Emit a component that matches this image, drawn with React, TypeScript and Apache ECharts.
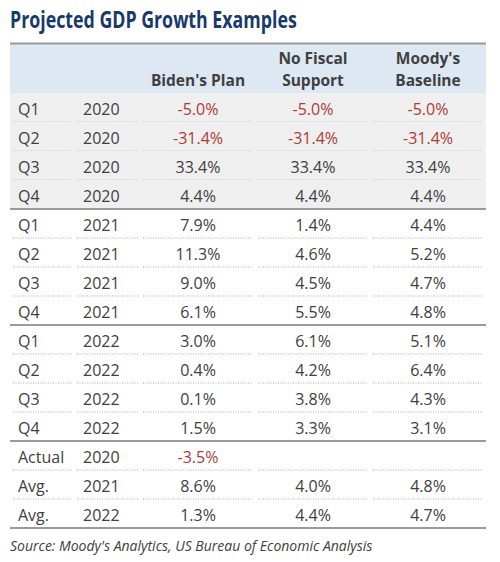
import React, { useEffect, useRef } from "react";
import * as echarts from "echarts";

const titleText = "Projected GDP Growth Examples";
const sourceText = "Source: Moody's Analytics, US Bureau of Economic Analysis";
const headers = [["Biden's Plan"], ["No Fiscal", "Support"], ["Moody's", "Baseline"]];
const periods = ["Q1", "Q2", "Q3", "Q4", "Q1", "Q2", "Q3", "Q4", "Q1", "Q2", "Q3", "Q4", "Actual", "Avg.", "Avg."];
const years = ["2020", "2020", "2020", "2020", "2021", "2021", "2021", "2021", "2022", "2022", "2022", "2022", "2020", "2021", "2022"];
const bidenPlan = [-5.0, -31.4, 33.4, 4.4, 7.9, 11.3, 9.0, 6.1, 3.0, 0.4, 0.1, 1.5, -3.5, 8.6, 1.3];
const noFiscal = [-5.0, -31.4, 33.4, 4.4, 1.4, 4.6, 4.5, 5.5, 6.1, 4.2, 3.8, 3.3, null, 4.0, 4.4];
const moodysBaseline = [-5.0, -31.4, 33.4, 4.4, 4.4, 5.2, 4.7, 4.8, 5.1, 6.4, 4.3, 3.1, null, 4.8, 4.7];
const shadedRows = [0, 1, 2, 3];
const groupEndRows = [3, 7, 11, 14];

const TABLE_W = 476;
const FONT = "'Open Sans', 'Noto Sans', sans-serif";
const TITLE_FONT = `bold 24px 'Open Sans', sans-serif`;
const TITLE_W = 287;
const TEXT = "#404040";
const RED = "#ad3b36";
const RULE = "#9a9a9a";
const valueCols = [188, 303, 418];
const dotSegs = [[3, 62], [67, 128], [133, 243], [248, 358], [363, 473]];

function measure(text: string, font: string) {
  const ctx = document.createElement("canvas").getContext("2d");
  if (!ctx) return TITLE_W;
  ctx.font = font;
  return ctx.measureText(text).width || TITLE_W;
}

export default function App() {
  const ref = useRef<HTMLDivElement>(null);
  useEffect(() => {
    document.body.style.margin = "0";
    const chart = echarts.init(ref.current!, null, { renderer: "svg" });
    const series = [bidenPlan, noFiscal, moodysBaseline];
    const rowIdx = periods.map((_, i) => [0, i]);
    const titleScale = Math.min(1, TITLE_W / measure(titleText, TITLE_FONT));

    const txt = (text: string, x: number, y: number, font: string, fill: string, align: string) => ({
      type: "text",
      style: { text, x, y, font, fill, align, verticalAlign: "middle", textAlign: align, textVerticalAlign: "middle" },
    });

    const renderItem = (params: any, api: any) => {
      const i = api.value(1);
      const c = api.coord([0, i]);
      const h = api.size([0, 1])[1];
      const X = (v: number) => api.coord([v, i])[0];
      const top = c[1] - h / 2;
      const bot = c[1] + h / 2;
      const ty = c[1] + 1;
      const children: any[] = [];
      if (shadedRows.includes(i)) {
        children.push({
          type: "rect",
          shape: { x: X(0), y: top, width: X(TABLE_W) - X(0), height: h },
          style: { fill: "#efefef" },
          silent: true,
        });
      }
      children.push(txt(periods[i], X(8), ty, `16px ${FONT}`, TEXT, "left"));
      children.push(txt(years[i], X(73), ty, `16px ${FONT}`, TEXT, "left"));
      series.forEach((s, k) => {
        const v = s[i];
        if (v === null || v === undefined) return;
        children.push(txt(v.toFixed(1) + "%", X(valueCols[k]), ty, `16px ${FONT}`, v < 0 ? RED : TEXT, "center"));
      });
      if (groupEndRows.includes(i)) {
        children.push({
          type: "line",
          shape: { x1: X(0), y1: bot, x2: X(TABLE_W), y2: bot },
          style: { stroke: RULE, lineWidth: 2 },
        });
      } else {
        dotSegs.forEach(([a, b]) => {
          children.push({
            type: "line",
            shape: { x1: X(a), y1: bot, x2: X(b), y2: bot },
            style: { stroke: "#ababab", lineWidth: 1, lineDash: [1, 1.5] },
          });
        });
      }
      return { type: "group", children };
    };

    const headerTexts: any[] = [];
    headers.forEach((lines, k) => {
      const n = lines.length;
      lines.forEach((t, j) => {
        headerTexts.push(txt(t, 10 + valueCols[k], 80 - (n - 1 - j) * 22, `bold 15.5px ${FONT}`, TEXT, "center"));
      });
    });

    chart.setOption({
      animation: false,
      grid: { left: 10, width: TABLE_W, top: 93, height: 435, containLabel: false },
      xAxis: { type: "value", min: 0, max: TABLE_W, show: false },
      yAxis: { type: "category", inverse: true, data: periods.map((_, i) => String(i)), show: false },
      graphic: [
        {
          type: "text",
          x: 10,
          y: 18,
          scaleX: titleScale,
          style: { text: titleText, x: 0, y: 0, font: TITLE_FONT, fill: "#17396b", align: "left", verticalAlign: "middle", textAlign: "left", textVerticalAlign: "middle" },
        },
        { type: "rect", shape: { x: 10, y: 44, width: TABLE_W, height: 49 }, style: { fill: "#dde8f2" } },
        { type: "line", shape: { x1: 10, y1: 43.5, x2: 10 + TABLE_W, y2: 43.5 }, style: { stroke: RULE, lineWidth: 2 } },
        ...headerTexts,
        txt(sourceText, 10, 545, `italic 14px ${FONT}`, TEXT, "left"),
      ],
      series: [
        {
          type: "custom",
          renderItem,
          data: rowIdx,
          encode: { x: 0, y: 1 },
          silent: true,
        },
      ],
    });
    return () => chart.dispose();
  }, []);
  return <div ref={ref} style={{ width: 500, height: 562 }} />;
}
